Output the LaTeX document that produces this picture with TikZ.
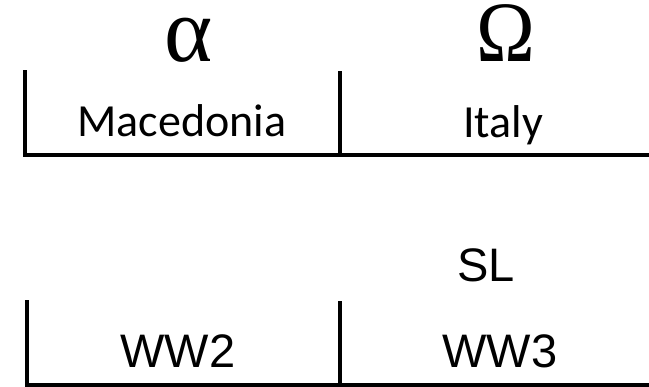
\documentclass[tikz,border=0pt]{standalone}
\usepackage{fontspec}
\setmainfont{Liberation Serif}
\newfontfamily\calib{Carlito}
\newfontfamily\arial{Liberation Sans}
\newfontfamily\tnr{Liberation Serif}
\begin{document}
\begin{tikzpicture}[x=1pt,y=1pt,
  bar/.style={line width=4pt,line cap=rect},
  lbl/.style={anchor=base,inner sep=0pt,outer sep=0pt},
  cal/.style={lbl,font=\calib\fontsize{46}{50}\selectfont},
  ari/.style={lbl,font=\arial\fontsize{47}{50}\selectfont}]
\useasboundingbox (0,0) rectangle (649,387);
\fill[white] (0,0) rectangle (649,387);
% top bracket
\coordinate (tl) at (25,315);
\coordinate (tlb) at (25,232);
\coordinate (tm) at (340,314);
\coordinate (tmb) at (340,232);
\coordinate (tr) at (649,232);
\draw[bar] (tl) -- (tlb) -- (tr);
\draw[bar] (tm) -- (tmb);
% bottom bracket
\coordinate (bl) at (27,85);
\coordinate (blb) at (27,2);
\coordinate (bm) at (340,84);
\coordinate (bmb) at (340,2);
\coordinate (br) at (649,2);
\draw[bar] (bl) -- (blb) -- (br);
\draw[bar] (bm) -- (bmb);
% texts
\node[lbl,font=\tnr\fontsize{92}{96}\selectfont] (alpha) at (189,325) {α};
\node[lbl,font=\tnr\fontsize{86}{90}\selectfont,xscale=0.92] (omega) at (506,325) {Ω};
\node[cal] (mac) at (182,250) {Macedonia};
\node[cal] (ita) at (503,249) {Italy};
\node[ari] (sl) at (486,105) {SL};
\node[ari] (ww2) at (178,19) {WW2};
\node[ari] (ww3) at (500,19) {WW3};
\end{tikzpicture}
\end{document}
